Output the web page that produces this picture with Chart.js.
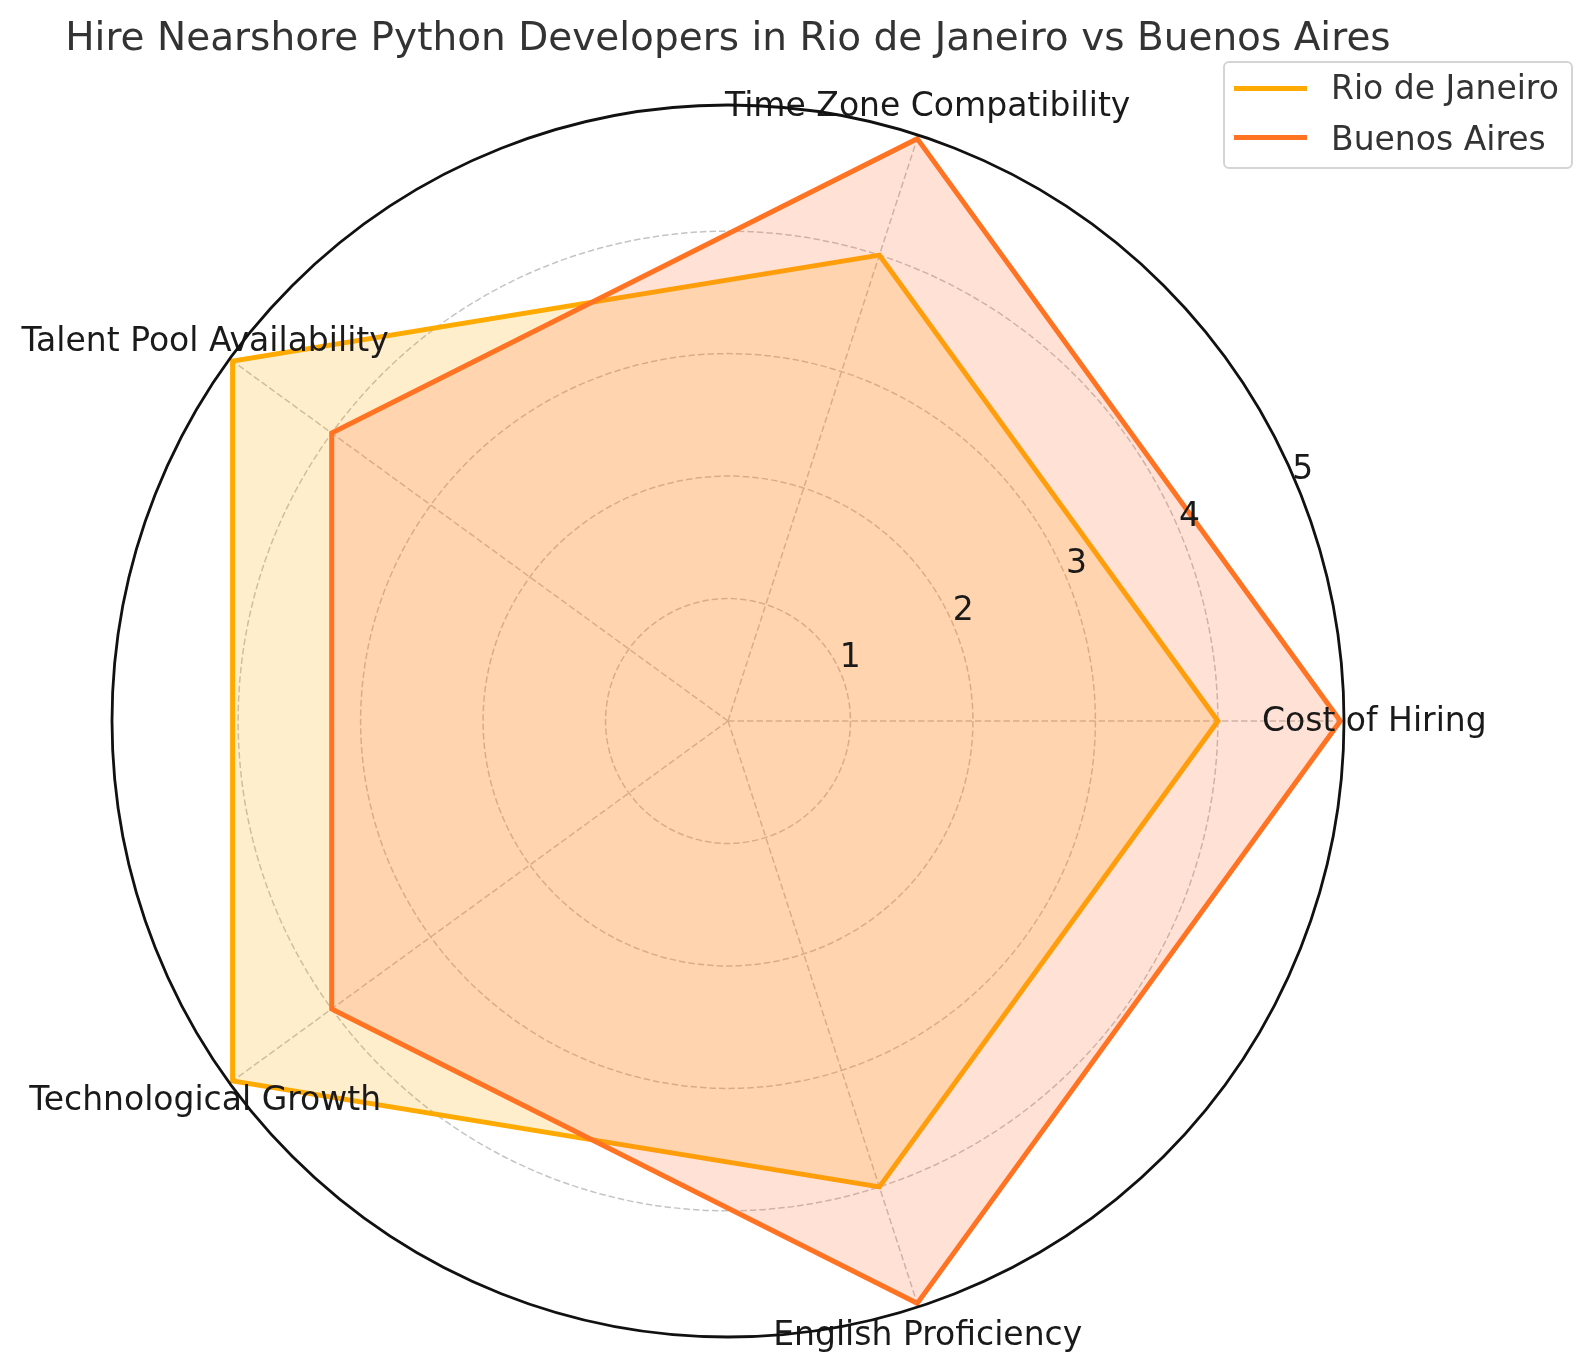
<!DOCTYPE html>
<html>
<head>
<meta charset="utf-8">
<title>Rio de Janeiro vs Buenos Aires</title>
<script src="https://cdn.jsdelivr.net/npm/chart.js@4.4.1/dist/chart.umd.min.js"></script>
<style>
  body { margin: 0; background: #fff; overflow: hidden; font-family: "DejaVu Sans", sans-serif; }
  #wrap { position: relative; width: 1593px; height: 1371px; }
  #chart { position: absolute; left: 0; top: 0; }
  #title { position: absolute; left: 0; top: 15px; width: 1456px; text-align: center;
           font-size: 39px; line-height: 44px; color: #333; white-space: nowrap; }
  #legend { position: absolute; left: 1223px; top: 61px; width: 350px; height: 108px;
            box-sizing: border-box; border: 2px solid #d4d4d4; border-radius: 6px; background: rgba(255,255,255,0.8); }
  .swatch { position: absolute; left: 9px; width: 73px; height: 5px; }
  .label { position: absolute; left: 106px; font-size: 33px; line-height: 38px; color: #333; white-space: nowrap; }
</style>
</head>
<body>
<div id="wrap">
  <canvas id="chart" width="1593" height="1371"></canvas>
  <div id="title">Hire Nearshore Python Developers in Rio de Janeiro vs Buenos Aires</div>
  <div id="legend"></div>
</div>
<script>
// categories as plotted (counter-clockwise from the right)
const categories = ['Cost of Hiring', 'Time Zone Compatibility', 'Talent Pool Availability', 'Technological Growth', 'English Proficiency'];
const rioValues = [4, 4, 5, 5, 4];
const baValues = [5, 5, 4, 4, 5];
const tickValues = [1, 2, 3, 4, 5];

const seriesNames = ['Rio de Janeiro', 'Buenos Aires'];
const lineColors = ['#FFAA00', '#FF7322'];
const fillColors = ['rgba(255,170,0,0.2)', 'rgba(255,105,50,0.2)'];

// Chart.js goes clockwise, so flip the order after the first one
const cw = [0, 4, 3, 2, 1];
const labelsCw = cw.map(i => categories[i]);

const radarDecor = {
  id: 'radarDecor',
  afterDatasetsDraw(chart) {
    const r = chart.scales.r;
    const ctx = chart.ctx;
    ctx.save();
    ctx.font = '33px "DejaVu Sans"';
    ctx.fillStyle = '#1a1a1a';
    ctx.textAlign = 'center';
    ctx.textBaseline = 'middle';

    // radial tick labels at 22.5 degrees
    const a = -22.5 * Math.PI / 180;
    tickValues.forEach(v => {
      const d = r.getDistanceFromCenterForValue(v);
      ctx.fillText(String(v), r.xCenter + d * Math.cos(a) + 9, r.yCenter + d * Math.sin(a) - 16);
    });

    // category labels, centred just outside the outer ring
    labelsCw.forEach((c, i) => {
      const p = r.getPointPosition(i, r.getDistanceFromCenterForValue(5) + 34);
      ctx.fillText(c, p.x, p.y + 1);
    });

    // outer circle
    ctx.beginPath();
    ctx.arc(r.xCenter, r.yCenter, r.drawingArea, 0, Math.PI * 2);
    ctx.lineWidth = 2.8;
    ctx.strokeStyle = '#111';
    ctx.stroke();
    ctx.restore();
  }
};

new Chart(document.getElementById('chart'), {
  type: 'radar',
  data: {
    labels: labelsCw,
    datasets: [{
      label: seriesNames[0],
      data: cw.map(i => rioValues[i]),
      borderColor: lineColors[0],
      backgroundColor: fillColors[0],
      borderWidth: 5,
      fill: true,
      order: 1
    }, {
      label: seriesNames[1],
      data: cw.map(i => baValues[i]),
      borderColor: lineColors[1],
      backgroundColor: fillColors[1],
      borderWidth: 5,
      fill: true,
      order: 0
    }]
  },
  options: {
    responsive: false,
    animation: false,
    events: [],
    layout: { padding: { left: 112, top: 105, right: 249, bottom: 34 } },
    elements: {
      line: { tension: 0, borderJoinStyle: 'miter' },
      point: { radius: 0, hoverRadius: 0 }
    },
    plugins: {
      legend: { display: false },
      title: { display: false },
      tooltip: { enabled: false }
    },
    scales: {
      r: {
        startAngle: 90,
        min: 0,
        max: 5.03,
        afterBuildTicks: s => { s.ticks = s.ticks.filter(t => Number.isInteger(t.value)); },
        ticks: { display: false, stepSize: 1 },
        pointLabels: { display: false },
        grid: { circular: true, color: '#c4c4c4', lineWidth: 1.5 },
        border: { dash: [6.5, 3] },
        angleLines: { color: '#c4c4c4', lineWidth: 1.5, borderDash: [6.5, 3] }
      }
    }
  },
  plugins: [radarDecor]
});

// legend box
const legend = document.getElementById('legend');
seriesNames.forEach((name, i) => {
  const sw = document.createElement('div');
  sw.className = 'swatch';
  sw.style.top = (25 - 2.5 + i * 49) + 'px';
  sw.style.background = lineColors[i];
  legend.appendChild(sw);
  const lb = document.createElement('div');
  lb.className = 'label';
  lb.style.top = (6 + i * 51) + 'px';
  lb.textContent = name;
  legend.appendChild(lb);
});
</script>
</body>
</html>
